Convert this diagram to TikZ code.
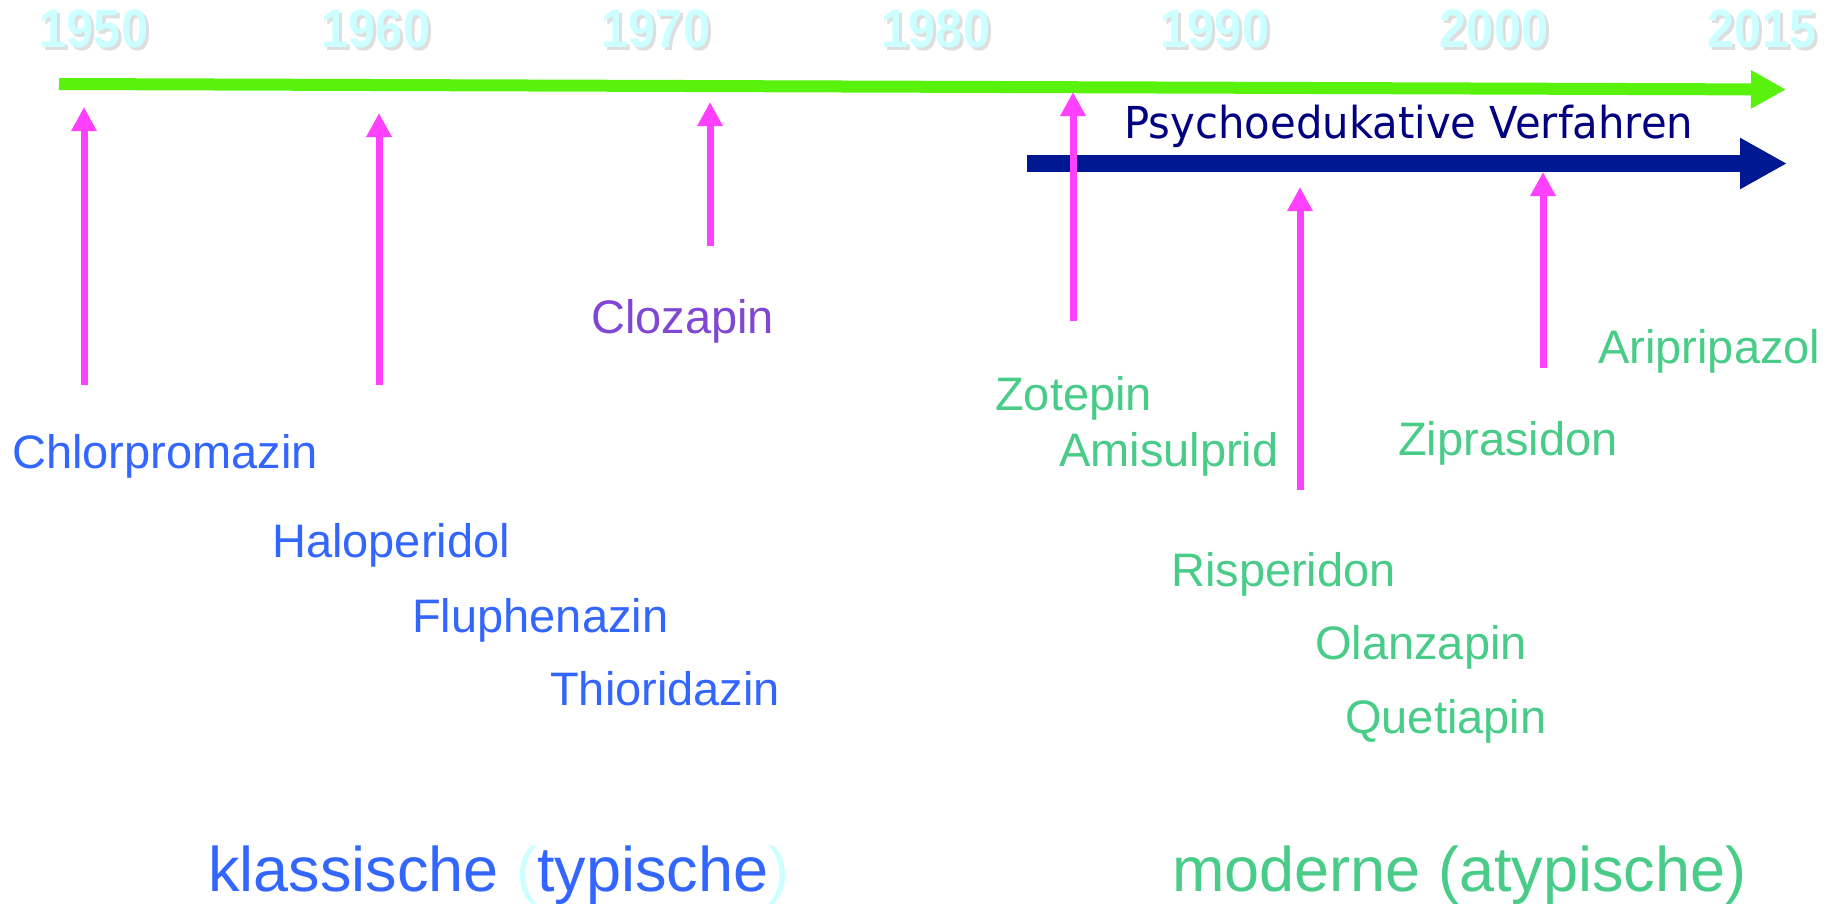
\documentclass[tikz,border=0pt]{standalone}
\usepackage{fontspec}
\setmainfont{Liberation Sans}
\newfontfamily\verd[FakeStretch=0.95]{DejaVu Sans}
\newfontfamily\yearfont[FakeStretch=0.9]{Liberation Sans}
\usetikzlibrary{arrows.meta}
\definecolor{tlgreen}{RGB}{88,242,12}
\definecolor{navyarrow}{RGB}{0,24,145}
\definecolor{navytext}{RGB}{0,0,128}
\definecolor{pinkarrow}{RGB}{255,64,255}
\definecolor{classblue}{RGB}{51,102,255}
\definecolor{modgreen}{RGB}{72,204,136}
\definecolor{clozpurple}{RGB}{128,72,210}
\definecolor{yearcyan}{RGB}{204,255,255}
\definecolor{yearshadow}{RGB}{222,222,222}
\newcommand{\yrlabel}[1]{\rlap{\kern3pt\raisebox{-3pt}{\textcolor{yearshadow}{#1}}}\textcolor{yearcyan}{#1}}
\begin{document}
\begin{tikzpicture}[x=1pt,y=-1pt,
  yearlbl/.style={anchor=base, inner sep=0pt, font=\yearfont\fontsize{54}{64}\selectfont\bfseries},
  drug/.style={anchor=base west, inner sep=0pt, font=\fontsize{47}{56}\selectfont},
  classic/.style={drug, text=classblue},
  modern/.style={drug, text=modgreen},
  grouplbl/.style={anchor=base west, inner sep=0pt, font=\fontsize{63}{76}\selectfont},
  pinkarr/.style={draw=pinkarrow, line width=7pt, -{Triangle[length=24pt, width=24pt]}},
  greenarr/.style={draw=tlgreen, line width=12pt, -{Triangle[length=35pt, width=36pt]}},
  navyarr/.style={draw=navyarrow, line width=17pt, -{Triangle[length=47pt, width=48pt]}}
]
\useasboundingbox (0,0) rectangle (1839,903);
\fill[white] (0,0) rectangle (1839,903);

% year labels
\node[yearlbl] (y1950) at (94,47) {\yrlabel{1950}};
\node[yearlbl] (y1960) at (376,47) {\yrlabel{1960}};
\node[yearlbl] (y1970) at (656,47) {\yrlabel{1970}};
\node[yearlbl] (y1980) at (936,47) {\yrlabel{1980}};
\node[yearlbl] (y1990) at (1215,47) {\yrlabel{1990}};
\node[yearlbl] (y2000) at (1494,47) {\yrlabel{2000}};
\node[yearlbl] (y2015) at (1762,47) {\yrlabel{2015}};

% timeline
\coordinate (gstart) at (59,84);
\coordinate (gend) at (1786,89.5);
\draw[greenarr] (gstart) -- (gend);

% psychoeducation arrow
\node[anchor=base west, inner sep=0pt, text=navytext, font=\verd\fontsize{44}{52}\selectfont] (psy) at (1124,138) {Psychoedukative Verfahren};
\coordinate (nstart) at (1027,163.5);
\coordinate (nend) at (1787,163.5);
\draw[navyarr] (nstart) -- (nend);

% classic drugs
\node[classic] (chlor) at (12,468) {Chlorpromazin};
\node[classic] (halo) at (272,557) {Haloperidol};
\node[classic] (fluph) at (412,632) {Fluphenazin};
\node[classic] (thio) at (550,705) {Thioridazin};
\node[drug, text=clozpurple] (cloz) at (591,333) {Clozapin};

% modern drugs
\node[modern] (zot) at (995,410) {Zotepin};
\node[modern] (amis) at (1059,466) {Amisulprid};
\node[modern] (zipr) at (1398,455) {Ziprasidon};
\node[modern] (arip) at (1598,363) {Aripripazol};
\node[modern] (risp) at (1171,586) {Risperidon};
\node[modern] (olan) at (1315,659) {Olanzapin};
\node[modern] (quet) at (1345,733) {Quetiapin};

% group labels
\node[grouplbl] (klass) at (208,891) {\textcolor{classblue}{klassische }\textcolor{yearcyan}{(}\textcolor{classblue}{typische}\textcolor{yearcyan}{)}};
\node[grouplbl, text=modgreen] (mod) at (1172,891) {moderne (atypische)};

% pink arrows
\coordinate (a1t) at (84,385);   \coordinate (a1h) at (84,107);
\coordinate (a2t) at (379,385);  \coordinate (a2h) at (379,113);
\coordinate (a3t) at (710,246);  \coordinate (a3h) at (710,102);
\coordinate (a4t) at (1073,321); \coordinate (a4h) at (1073,92);
\coordinate (a5t) at (1300,490); \coordinate (a5h) at (1300,187);
\coordinate (a6t) at (1543,368); \coordinate (a6h) at (1543,172);
\draw[pinkarr] (a1t) -- (a1h);
\draw[pinkarr] (a2t) -- (a2h);
\draw[pinkarr] (a3t) -- (a3h);
\draw[pinkarr] (a4t) -- (a4h);
\draw[pinkarr] (a5t) -- (a5h);
\draw[pinkarr] (a6t) -- (a6h);
\end{tikzpicture}
\end{document}
